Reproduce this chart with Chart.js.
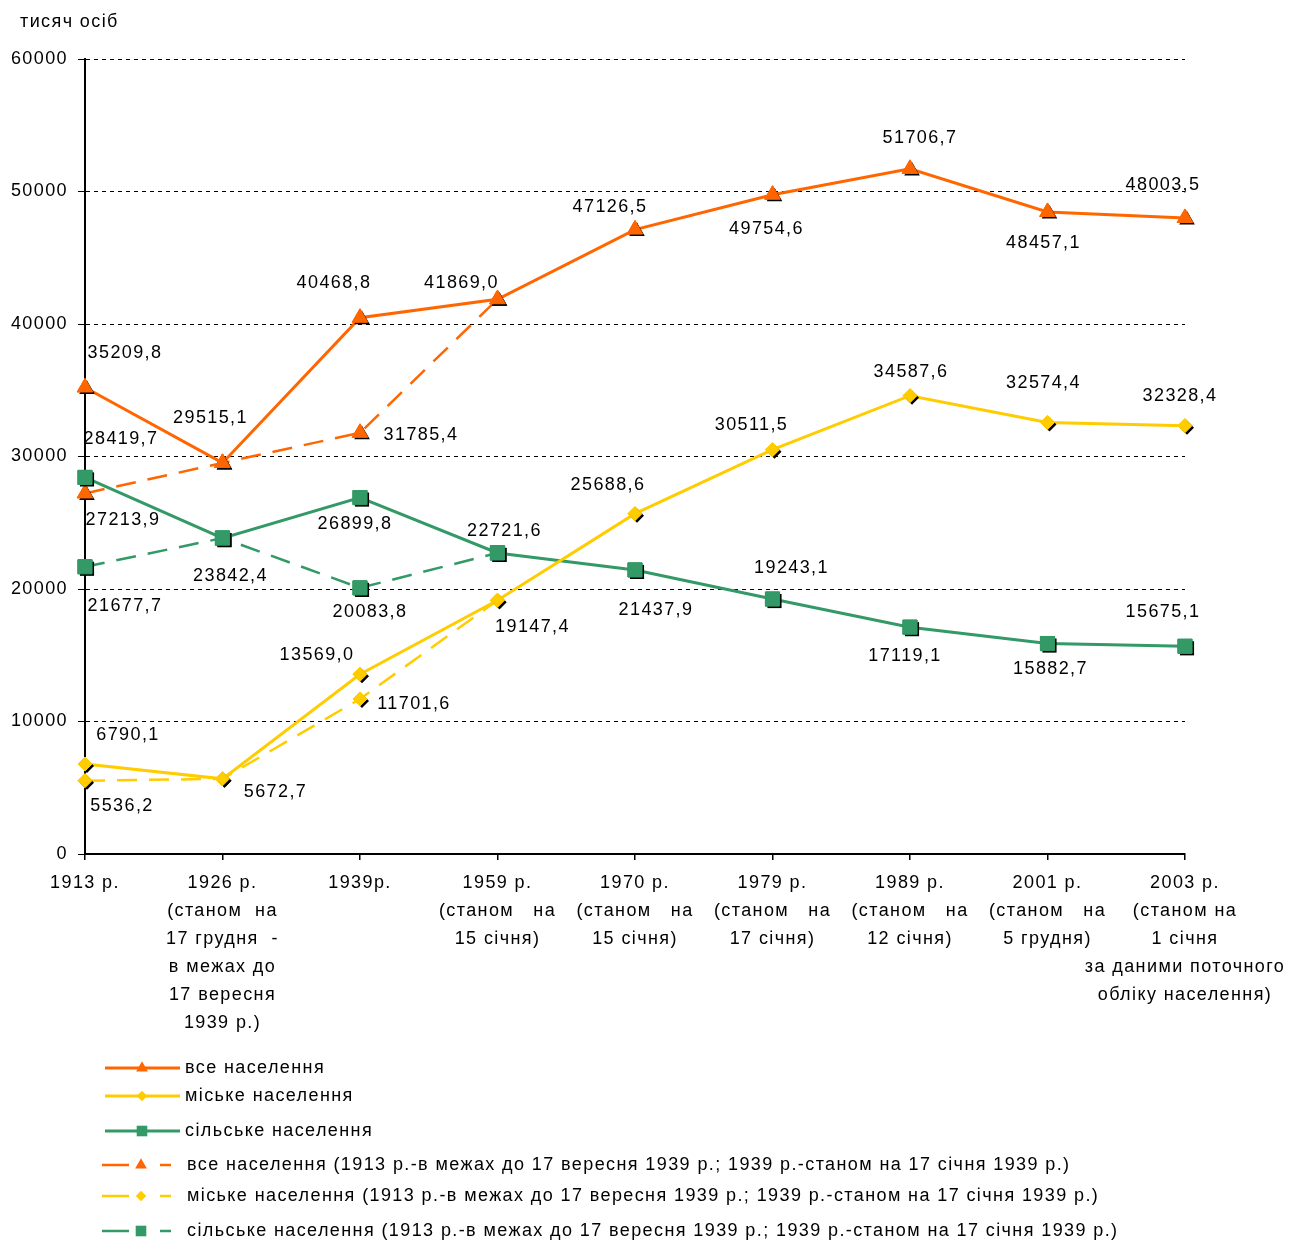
<!DOCTYPE html>
<html>
<head>
<meta charset="utf-8">
<script src="https://cdn.jsdelivr.net/npm/chart.js@4.4.1/dist/chart.umd.min.js"></script>
<style>
  html, body { margin: 0; padding: 0; background: #fff; }
  canvas { display: block; }
</style>
</head>
<body>
<canvas id="chart" width="1309" height="1240"></canvas>
<script>
// Категорії (роки переписів)
const years = [
  "1913 р.",
  ["1926 р.", "(станом  на", "17 грудня  -", "в межах до", "17 вересня", "1939 р.)"],
  "1939р.",
  ["1959 р.", "(станом   на", "15 січня)"],
  ["1970 р.", "(станом   на", "15 січня)"],
  ["1979 р.", "(станом   на", "17 січня)"],
  ["1989 р.", "(станом   на", "12 січня)"],
  ["2001 р.", "(станом   на", "5 грудня)"],
  ["2003 р.", "(станом на", "1 січня", "за даними поточного", "обліку населення)"]
];

// Значення, тис. осіб
const allPop = [35209.8, 29515.1, 40468.8, 41869.0, 47126.5, 49754.6, 51706.7, 48457.1, 48003.5];
const urbanPop = [6790.1, 5672.7, 13569.0, 19147.4, 25688.6, 30511.5, 34587.6, 32574.4, 32328.4];
const ruralPop = [28419.7, 23842.4, 26899.8, 22721.6, 21437.9, 19243.1, 17119.1, 15882.7, 15675.1];
const allPopOld = [27213.9, 29515.1, 31785.4, 41869.0, null, null, null, null, null];
const urbanPopOld = [5536.2, 5672.7, 11701.6, 19147.4, null, null, null, null, null];
const ruralPopOld = [21677.7, 23842.4, 20083.8, 22721.6, null, null, null, null, null];

const seriesNames = [
  "все населення",
  "міське населення",
  "сільське населення",
  "все населення (1913 р.-в межах до 17 вересня 1939 р.; 1939 р.-станом на 17 січня 1939 р.)",
  "міське населення (1913 р.-в межах до 17 вересня 1939 р.; 1939 р.-станом на 17 січня 1939 р.)",
  "сільське населення (1913 р.-в межах до 17 вересня 1939 р.; 1939 р.-станом на 17 січня 1939 р.)"
];

const yMin = 0;
const yMax = 60000;
const yStep = 10000;
const yTitle = "тисяч осіб";

// Зсуви підписів значень відносно точки (dx, dy), null — без підпису
const labelShift = [
  { dx: [40, -12, -26, -36, -25, -6, 10, -4, -22], dy: [-34, -45, -35, -16, -23, 34, -31, 31, -33] },
  { dx: [43, 53, -43, 35, -27, -21, 1, -4, -5], dy: [-29, 13, -19, 27, -29, -25, -24, -39, -30] },
  { dx: [36, 8, -5, 7, 21, 19, -5, 3, -22], dy: [-38, 38, 26, -22, 40, -31, 29, 25, -34] },
  { dx: [38, null, 61, null], dy: [27, null, 2, null] },
  { dx: [37, null, 54, null], dy: [25, null, 5, null] },
  { dx: [40, null, 10, null], dy: [39, null, 24, null] }
];

const ORANGE = "#ff6600";
const YELLOW = "#ffcc00";
const GREEN = "#339966";
const FONT = "'Liberation Sans', Arial, sans-serif";
const DASH = [20, 12];

const makeSet = (label, data, color, style, radius, dashed) => ({
  label: label,
  data: data,
  borderColor: color,
  backgroundColor: color,
  borderWidth: dashed ? 2.5 : 3,
  borderDash: dashed ? DASH : [],
  pointStyle: style,
  pointRadius: radius,
  pointHoverRadius: radius,
  pointBackgroundColor: color,
  pointBorderColor: color,
  pointBorderWidth: 1,
  tension: 0,
  spanGaps: false,
  fill: false
});

const datasets = [
  makeSet(seriesNames[0], allPop, ORANGE, "triangle", 9, false),
  makeSet(seriesNames[1], urbanPop, YELLOW, "rectRot", 7, false),
  makeSet(seriesNames[2], ruralPop, GREEN, "rect", 10, false),
  makeSet(seriesNames[3], allPopOld, ORANGE, "triangle", 9, true),
  makeSet(seriesNames[4], urbanPopOld, YELLOW, "rectRot", 7, true),
  makeSet(seriesNames[5], ruralPopOld, GREEN, "rect", 10, true)
];

const fmt = (v) => v.toFixed(1).replace(".", ",");

// трохи ширший текст, як у вихідному малюнку
const spacingPlugin = {
  id: "spacing",
  beforeLayout(chart) { chart.ctx.letterSpacing = "1.4px"; },
  beforeDraw(chart) { chart.ctx.letterSpacing = "1.4px"; }
};

// чорна "тінь" під маркерами
const shadowPlugin = {
  id: "markerShadow",
  afterDatasetDraw(chart, args) {
    const ctx = chart.ctx;
    const ds = chart.data.datasets[args.index];
    args.meta.data.forEach((p, i) => {
      if (ds.data[i] === null || p.skip) return;
      ctx.save();
      ctx.fillStyle = "#000";
      Chart.helpers.drawPoint(ctx, { pointStyle: ds.pointStyle, rotation: 0, radius: ds.pointRadius, borderWidth: 0 }, p.x + 2, p.y + 2);
      ctx.restore();
      p.draw(ctx, chart.chartArea);
    });
  }
};

// підписи значень
const labelPlugin = {
  id: "valueLabels",
  afterDatasetsDraw(chart) {
    const ctx = chart.ctx;
    ctx.save();
    ctx.font = "18px " + FONT;
    ctx.fillStyle = "#000";
    ctx.textAlign = "center";
    ctx.textBaseline = "middle";
    chart.data.datasets.forEach((ds, di) => {
      const meta = chart.getDatasetMeta(di);
      const sh = labelShift[di];
      meta.data.forEach((p, i) => {
        const v = ds.data[i];
        if (v === null || v === undefined) return;
        if (sh.dx[i] === null || sh.dx[i] === undefined) return;
        ctx.fillText(fmt(v), p.x + sh.dx[i], p.y + sh.dy[i]);
      });
    });
    ctx.restore();
  }
};

// назва осі та легенда
const legendRows = [1068, 1096, 1131, 1165, 1196, 1231];
const legendPlugin = {
  id: "customLegend",
  afterDraw(chart) {
    const ctx = chart.ctx;
    ctx.save();
    ctx.font = "18px " + FONT;
    ctx.fillStyle = "#000";
    ctx.textAlign = "left";
    ctx.textBaseline = "middle";
    ctx.fillText(yTitle, 20, 22);

    chart.data.datasets.forEach((ds, i) => {
      const y = legendRows[i];
      const dashed = ds.borderDash.length > 0;
      ctx.strokeStyle = ds.borderColor;
      ctx.lineWidth = ds.borderWidth;
      ctx.beginPath();
      if (dashed) {
        ctx.moveTo(102, y); ctx.lineTo(129, y);
        ctx.moveTo(160, y); ctx.lineTo(171, y);
      } else {
        ctx.moveTo(105, y); ctx.lineTo(180, y);
      }
      ctx.stroke();
      ctx.fillStyle = ds.borderColor;
      Chart.helpers.drawPoint(ctx, { pointStyle: ds.pointStyle, rotation: 0, radius: ds.pointRadius * 0.75, borderWidth: 0 }, dashed ? 141 : 142, y);
      ctx.fillStyle = "#000";
      ctx.fillText(ds.label, dashed ? 187 : 185, y);
    });
    ctx.restore();
  }
};

const chart = new Chart(document.getElementById("chart"), {
  type: "line",
  data: { labels: years, datasets: datasets },
  plugins: [spacingPlugin, shadowPlugin, labelPlugin, legendPlugin],
  options: {
    responsive: false,
    animation: false,
    devicePixelRatio: 1,
    layout: { padding: { top: 59, right: 124, left: 0, bottom: 0 } },
    plugins: {
      legend: { display: false },
      title: { display: false },
      tooltip: { enabled: false }
    },
    scales: {
      x: {
        type: "category",
        offset: false,
        grid: { drawOnChartArea: false, drawTicks: true, tickLength: 6, color: "#000", lineWidth: 1.5 },
        border: { display: true, color: "#000", width: 2 },
        ticks: {
          autoSkip: false,
          maxRotation: 0,
          minRotation: 0,
          padding: 9,
          color: "#000",
          font: { family: FONT, size: 18, lineHeight: 28 / 18 }
        },
        afterFit: (s) => { s.height = 386; }
      },
      y: {
        min: yMin,
        max: yMax,
        ticks: {
          stepSize: yStep,
          padding: 10,
          color: "#000",
          font: { family: FONT, size: 18 },
          callback: (v) => String(v)
        },
        grid: { color: "#000", lineWidth: 1, tickLength: 7, tickBorderDash: [] },
        border: { display: true, color: "#000", width: 2, dash: [4, 4] },
        afterFit: (s) => { s.width = 85; }
      }
    }
  }
});
</script>
</body>
</html>
